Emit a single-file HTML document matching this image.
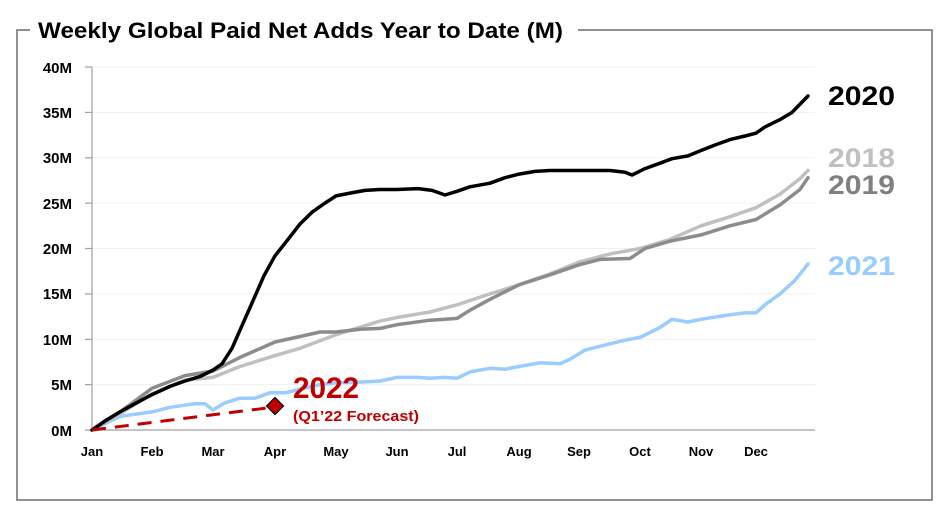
<!DOCTYPE html>
<html><head><meta charset="utf-8"><style>html,body{margin:0;padding:0;background:#fff}svg{display:block}</style></head>
<body>
<svg width="951" height="516" xmlns="http://www.w3.org/2000/svg" font-family="Liberation Sans, sans-serif" font-weight="bold">
<rect x="0" y="0" width="951" height="516" fill="#fff"/>
<rect x="17" y="30" width="915" height="470" fill="none" stroke="#6e6e6e" stroke-width="1.5"/>
<rect x="30" y="12" width="548" height="36" fill="#fff"/>
<text x="38" y="38" font-size="22" textLength="525" lengthAdjust="spacingAndGlyphs">Weekly Global Paid Net Adds Year to Date (M)</text>
<g stroke="#f0f0f0" stroke-width="1">
<line x1="92" y1="67" x2="815" y2="67"/><line x1="92" y1="112.4" x2="815" y2="112.4"/><line x1="92" y1="157.8" x2="815" y2="157.8"/><line x1="92" y1="203.1" x2="815" y2="203.1"/><line x1="92" y1="248.5" x2="815" y2="248.5"/><line x1="92" y1="293.9" x2="815" y2="293.9"/><line x1="92" y1="339.3" x2="815" y2="339.3"/><line x1="92" y1="384.6" x2="815" y2="384.6"/>
</g>
<g stroke="#a0a0a0" stroke-width="1.2">
<line x1="92" y1="67" x2="92" y2="430"/><line x1="92" y1="430" x2="815" y2="430"/>
<line x1="85" y1="67" x2="92" y2="67"/><line x1="85" y1="112.4" x2="92" y2="112.4"/><line x1="85" y1="157.8" x2="92" y2="157.8"/><line x1="85" y1="203.1" x2="92" y2="203.1"/><line x1="85" y1="248.5" x2="92" y2="248.5"/><line x1="85" y1="293.9" x2="92" y2="293.9"/><line x1="85" y1="339.3" x2="92" y2="339.3"/><line x1="85" y1="384.6" x2="92" y2="384.6"/><line x1="85" y1="430" x2="92" y2="430"/>
</g>
<g font-size="15" text-anchor="end">
<text x="72" y="73">40M</text><text x="72" y="118">35M</text><text x="72" y="163">30M</text><text x="72" y="209">25M</text><text x="72" y="254">20M</text><text x="72" y="299">15M</text><text x="72" y="345">10M</text><text x="72" y="390">5M</text><text x="72" y="436">0M</text>
</g>
<g font-size="13" text-anchor="middle">
<text x="92" y="456">Jan</text><text x="152" y="456">Feb</text><text x="213" y="456">Mar</text><text x="275" y="456">Apr</text><text x="336" y="456">May</text><text x="397" y="456">Jun</text><text x="457" y="456">Jul</text><text x="519" y="456">Aug</text><text x="579" y="456">Sep</text><text x="640" y="456">Oct</text><text x="701" y="456">Nov</text><text x="756" y="456">Dec</text>
</g>
<g id="lines" fill="none" stroke-width="3.5" stroke-linejoin="round" stroke-linecap="round"></g>
<line x1="92" y1="430" x2="275" y2="407" stroke="#c00000" stroke-width="3" stroke-dasharray="14,9"/>
<rect x="269" y="400" width="12" height="12" transform="rotate(45 275 406)" fill="#c00000" stroke="#000" stroke-width="1.2"/>
<text x="293" y="398" font-size="30" fill="#c00000" textLength="66" lengthAdjust="spacingAndGlyphs">2022</text>
<text x="293" y="421" font-size="15" fill="#c00000" textLength="126" lengthAdjust="spacingAndGlyphs">(Q1’22 Forecast)</text>
<g font-size="27">
<text x="828" y="105" textLength="67" lengthAdjust="spacingAndGlyphs">2020</text>
<text x="828" y="167" fill="#c0c0c0" textLength="67" lengthAdjust="spacingAndGlyphs">2018</text>
<text x="828" y="194" fill="#808080" textLength="67" lengthAdjust="spacingAndGlyphs">2019</text>
<text x="828" y="275" fill="#99ccff" textLength="67" lengthAdjust="spacingAndGlyphs">2021</text>
</g>
<script>
var S={
"#99ccff":[[92,0],[120,1.5],[152,2.0],[170,2.5],[195,2.9],[205,2.9],[213,2.2],[225,3.0],[240,3.5],[255,3.5],[270,4.1],[285,4.1],[300,4.5],[320,5],[336,5.2],[365,5.3],[380,5.4],[397,5.8],[418,5.8],[430,5.7],[445,5.8],[457,5.7],[470,6.4],[490,6.8],[505,6.7],[519,7],[540,7.4],[560,7.3],[570,7.8],[585,8.8],[610,9.5],[625,9.9],[640,10.2],[660,11.3],[672,12.2],[688,11.9],[701,12.2],[730,12.7],[745,12.9],[756,12.9],[765,13.8],[780,15],[795,16.5],[808,18.3]],
"#c0c0c0":[[92,0],[120,1.8],[152,4.0],[185,5.5],[213,5.8],[240,7],[275,8.2],[300,9],[336,10.5],[380,12],[397,12.4],[430,13],[457,13.8],[490,15],[519,16],[550,17.2],[579,18.5],[610,19.4],[640,20],[670,21],[701,22.5],[730,23.5],[756,24.5],[780,26],[800,27.7],[808,28.6]],
"#8c8c8c":[[92,0],[120,2.0],[152,4.6],[185,6.0],[213,6.5],[240,8],[275,9.7],[300,10.3],[320,10.8],[336,10.8],[360,11.1],[380,11.2],[397,11.6],[430,12.1],[445,12.2],[457,12.3],[470,13.2],[490,14.4],[519,16],[550,17.1],[579,18.2],[600,18.8],[630,18.9],[645,20],[670,20.8],[701,21.5],[730,22.5],[756,23.2],[780,24.8],[800,26.5],[808,27.8]],
"#000":[[92,0],[105,1],[120,2.0],[135,2.9],[152,3.9],[170,4.8],[185,5.4],[200,5.9],[213,6.6],[222,7.3],[232,9],[242,11.5],[252,14],[264,17],[275,19.2],[288,21],[300,22.7],[312,24],[325,25],[336,25.8],[350,26.1],[365,26.4],[380,26.5],[397,26.5],[418,26.6],[432,26.4],[445,25.9],[457,26.3],[470,26.8],[490,27.2],[505,27.8],[519,28.2],[535,28.5],[550,28.6],[579,28.6],[610,28.6],[625,28.4],[632,28.1],[645,28.8],[660,29.4],[672,29.9],[688,30.2],[701,30.8],[715,31.4],[730,32],[745,32.4],[756,32.7],[765,33.4],[780,34.2],[792,35],[808,36.8]]};
var g=document.getElementById("lines");
for(var c in S){var p=document.createElementNS("http://www.w3.org/2000/svg","polyline");
p.setAttribute("points",S[c].map(function(a){return a[0]+","+(430-a[1]*9.075).toFixed(1)}).join(" "));
p.setAttribute("stroke",c);g.appendChild(p);}
</script>
</svg>
</body></html>
